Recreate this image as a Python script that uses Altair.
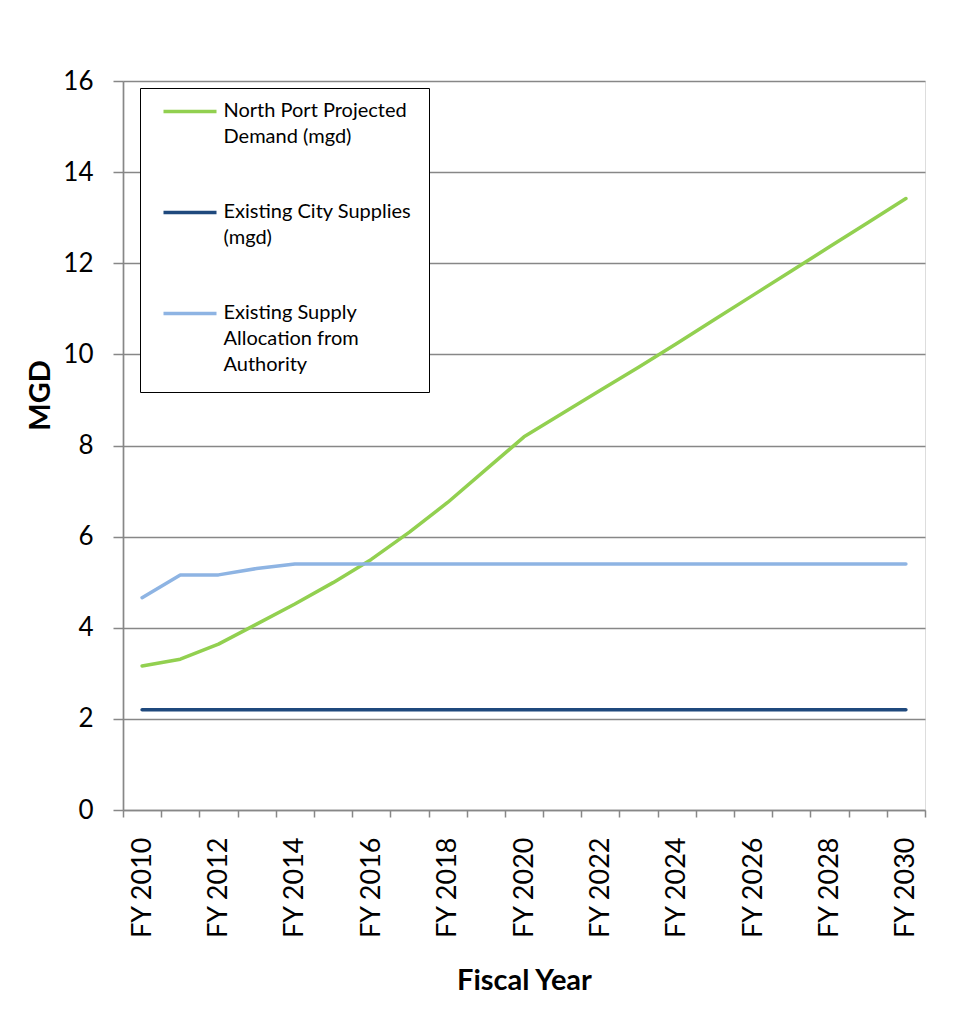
import altair as alt
import pandas as pd

years = [f"FY {y}" for y in range(2010, 2031)]

demand = [3.16, 3.31, 3.64, 4.08, 4.52, 4.99, 5.50, 6.10, 6.75, 7.47, 8.19,
          8.70, 9.21, 9.72, 10.24, 10.77, 11.30, 11.83, 12.36, 12.89, 13.42]
city = [2.2, 2.2, 2.2, 2.2, 2.2, 2.2, 2.2, 2.2, 2.2, 2.2, 2.2,
        2.2, 2.2, 2.2, 2.2, 2.2, 2.2, 2.2, 2.2, 2.2, 2.2]
authority = [4.66, 5.16, 5.16, 5.30, 5.40, 5.40, 5.40, 5.40, 5.40, 5.40, 5.40,
             5.40, 5.40, 5.40, 5.40, 5.40, 5.40, 5.40, 5.40, 5.40, 5.40]

series_names = ["North Port Projected Demand (mgd)",
                "Existing City Supplies (mgd)",
                "Existing Supply Allocation from Authority"]
series_colors = ["#92D050", "#1F497D", "#8EB4E3"]

rows = []
for name, vals in zip(series_names, [demand, city, authority]):
    for yr, v in zip(years, vals):
        rows.append({"year": yr, "series": name, "value": v})
df = pd.DataFrame(rows)

label_expr = (
    "datum.label == 'North Port Projected Demand (mgd)' ? ['North Port Projected', 'Demand (mgd)'] : "
    "datum.label == 'Existing City Supplies (mgd)' ? ['Existing City Supplies', '(mgd)'] : "
    "['Existing Supply', 'Allocation from', 'Authority']"
)

font = "Lato"
grid_col = "#878787"

chart = alt.Chart(df).mark_line(strokeWidth=3.5, strokeCap="round", strokeJoin="round").encode(
    x=alt.X("year:N", sort=years,
            scale=alt.Scale(paddingInner=0, paddingOuter=0),
            axis=alt.Axis(title="Fiscal Year", labelAngle=-90, labelAlign="right",
                          labelBaseline="middle",
                          labelExpr="parseInt(substring(datum.label, 3)) % 2 == 0 ? datum.label : ''",
                          tickBand="extent", tickSize=7, tickColor=grid_col, tickWidth=1.5,
                          domainColor=grid_col, domainWidth=1.7, grid=False,
                          labelFont=font, labelFontSize=27, labelColor="black",
                          labelPadding=20, titleFont=font, titleFontSize=29,
                          titleFontWeight="bold", titleColor="black", titlePadding=28,
                          labelOverlap=False)),
    y=alt.Y("value:Q", scale=alt.Scale(domain=[0, 16], nice=False),
            axis=alt.Axis(title="MGD", values=[0, 2, 4, 6, 8, 10, 12, 14, 16],
                          grid=True, gridColor=grid_col, gridWidth=1.7,
                          tickSize=10, tickColor=grid_col, tickWidth=1.5,
                          domainColor=grid_col, domainWidth=1.7,
                          labelFont=font, labelFontSize=26, labelColor="black",
                          labelPadding=20, titleFont=font, titleFontSize=29,
                          titleFontWeight="bold", titleColor="black",
                          titleX=-83, titleY=314, titleAngle=-90,
                          titleAlign="center", titleBaseline="middle")),
    color=alt.Color("series:N", sort=series_names,
                    scale=alt.Scale(domain=series_names, range=series_colors),
                    legend=alt.Legend(title=None, orient="none", legendX=17, legendY=7,
                                      strokeColor="black", fillColor="white",
                                      padding=17, labelExpr=label_expr,
                                      labelFont=font, labelFontSize=20,
                                      labelColor="black", labelBaseline="alphabetic",
                                      labelLimit=400, labelOffset=42.5,
                                      symbolType="M-0.55,-0.55H4.75",
                                      symbolSize=400,
                                      symbolStrokeWidth=3.5, rowPadding=55)),
).properties(
    width=802, height=729,
    padding={"left": 115, "top": 73, "right": 25, "bottom": 200},
    autosize=alt.AutoSizeParams(type="none"),
).configure_view(stroke=None).configure(
    background="white",
    style={"guide-label": {"lineHeight": 26}},
)

chart.save("out.html", embed_options={"renderer": "svg", "actions": False})
